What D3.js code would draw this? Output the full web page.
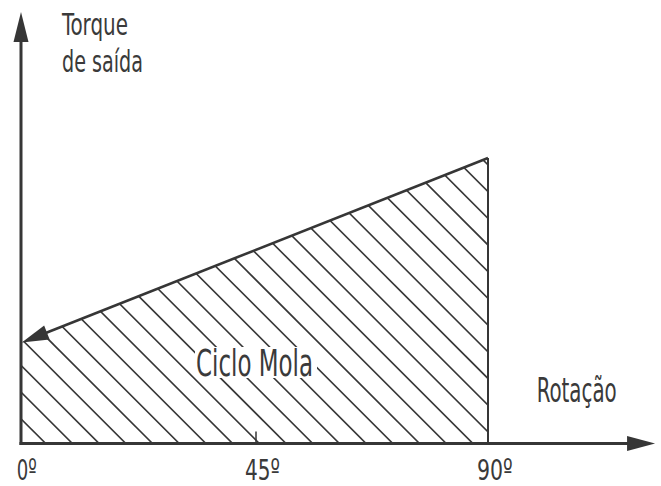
<!DOCTYPE html>
<html>
<head>
<meta charset="utf-8">
<script src="https://cdn.jsdelivr.net/npm/d3@7"></script>
<style>
  html, body { margin: 0; padding: 0; background: #fff; }
  svg { display: block; }
  text { font-family: "Liberation Sans Narrow", "DejaVu Sans Condensed", "Liberation Sans", sans-serif; fill: #3a3a3a; }
</style>
</head>
<body>
<script>
// ---- data ----
const springAngles = [0, 90];          // rotation (degrees)
const springTorque = [35.4, 100];      // output torque (relative units)
const tickValues   = [0, 45, 90];
const tickLabels   = ["0º", "45º", "90º"];
const yTitle       = ["Torque", "de saída"];
const xTitle       = "Rotação";
const areaLabel    = "Ciclo Mola";
const xAxisMax     = 122.2;
const yAxisMax     = 151.1;

// ---- layout ----
const W = 661, H = 486;
const ink = "#363636";
const svg = d3.select("body").append("svg").attr("width", W).attr("height", H);

const x = d3.scaleLinear().domain([0, 90]).range([21, 488]);
const y = d3.scaleLinear().domain([0, 100]).range([443.5, 158]);

const x0 = x(0), y0 = y(0);

// ---- hatched area ----
const pts = [
  [x(springAngles[0]), y(0)],
  [x(springAngles[0]), y(springTorque[0])],
  [x(springAngles[1]), y(springTorque[1])],
  [x(springAngles[1]), y(0)]
];
svg.append("clipPath").attr("id", "areaClip")
  .append("path").attr("d", d3.line()(pts) + "Z");

const hatchStep = 26.7, hatchPhase = 45.7 - y0;
const cs = d3.range(-25, 40).map(k => hatchPhase + k * hatchStep);
svg.append("g").attr("clip-path", "url(#areaClip)")
  .selectAll("line").data(cs).join("line")
  .attr("x1", c => c).attr("y1", 0)
  .attr("x2", c => c + H).attr("y2", H)
  .attr("stroke", ink).attr("stroke-width", 1.6);

// right edge of the area
svg.append("line")
  .attr("x1", x(90)).attr("y1", y(springTorque[1]))
  .attr("x2", x(90)).attr("y2", y0)
  .attr("stroke", ink).attr("stroke-width", 2);

// spring line with arrow head at the left end
(function () {
  const tx = x(springAngles[0]) + 0.8, ty = y(springTorque[0]);
  const sx = x(springAngles[1]), sy = y(springTorque[1]);
  const len = Math.hypot(sx - tx, sy - ty);
  const ux = (sx - tx) / len, uy = (sy - ty) / len;
  const hl = 27, hw = 7.5;
  const bx = tx + ux * hl, by = ty + uy * hl;
  svg.append("line").attr("x1", sx).attr("y1", sy).attr("x2", bx - ux * 2).attr("y2", by - uy * 2)
    .attr("stroke", ink).attr("stroke-width", 2.6);
  svg.append("path")
    .attr("d", d3.line()([[tx, ty], [bx - uy * hw, by + ux * hw], [bx + uy * hw, by - ux * hw]]) + "Z")
    .attr("fill", ink);
})();

// ---- axes ----
const xEnd = x(xAxisMax), yEnd = y(yAxisMax);
svg.append("line").attr("x1", x0).attr("y1", y0 + 1.5).attr("x2", x0).attr("y2", yEnd + 25)
  .attr("stroke", ink).attr("stroke-width", 3);
svg.append("path")
  .attr("d", d3.line()([[x0, yEnd], [x0 - 7.5, yEnd + 30], [x0 + 7.5, yEnd + 30]]) + "Z")
  .attr("fill", ink);
svg.append("line").attr("x1", x0 - 1.5).attr("y1", y0).attr("x2", xEnd - 25).attr("y2", y0)
  .attr("stroke", ink).attr("stroke-width", 3);
svg.append("path")
  .attr("d", d3.line()([[xEnd, y0], [xEnd - 28, y0 - 7.5], [xEnd - 28, y0 + 7.5]]) + "Z")
  .attr("fill", ink);

// middle tick
svg.append("line").attr("x1", x(45) + 1.5).attr("y1", y0).attr("x2", x(45) + 1.5).attr("y2", y0 - 12)
  .attr("stroke", ink).attr("stroke-width", 1.5);

// tick labels
const tickW = [20, 35, 35.7];
svg.selectAll("text.tick").data(tickValues).join("text").attr("class", "tick")
  .attr("x", (d, i) => x(d) + [-4.3, -9.5, -11][i])
  .attr("y", 479.5)
  .attr("font-size", 29)
  .attr("textLength", (d, i) => tickW[i])
  .attr("lengthAdjust", "spacingAndGlyphs")
  .text((d, i) => tickLabels[i]);

// axis titles
const yT = [{w: 66, b: 35}, {w: 81, b: 71.7}];
svg.selectAll("text.yt").data(yTitle).join("text").attr("class", "yt")
  .attr("x", 62).attr("y", (d, i) => yT[i].b)
  .attr("font-size", 31)
  .attr("textLength", (d, i) => yT[i].w)
  .attr("lengthAdjust", "spacingAndGlyphs")
  .text(d => d);

svg.append("text").attr("x", 536.7).attr("y", 401.7)
  .attr("font-size", 33).attr("textLength", 80).attr("lengthAdjust", "spacingAndGlyphs")
  .text(xTitle);

// area label on white box
svg.append("rect").attr("x", 195).attr("y", 347).attr("width", 122).attr("height", 31).attr("fill", "#fff");
svg.append("text").attr("x", 196).attr("y", 376)
  .attr("font-size", 38).attr("textLength", 117).attr("lengthAdjust", "spacingAndGlyphs")
  .text(areaLabel);
</script>
</body>
</html>
